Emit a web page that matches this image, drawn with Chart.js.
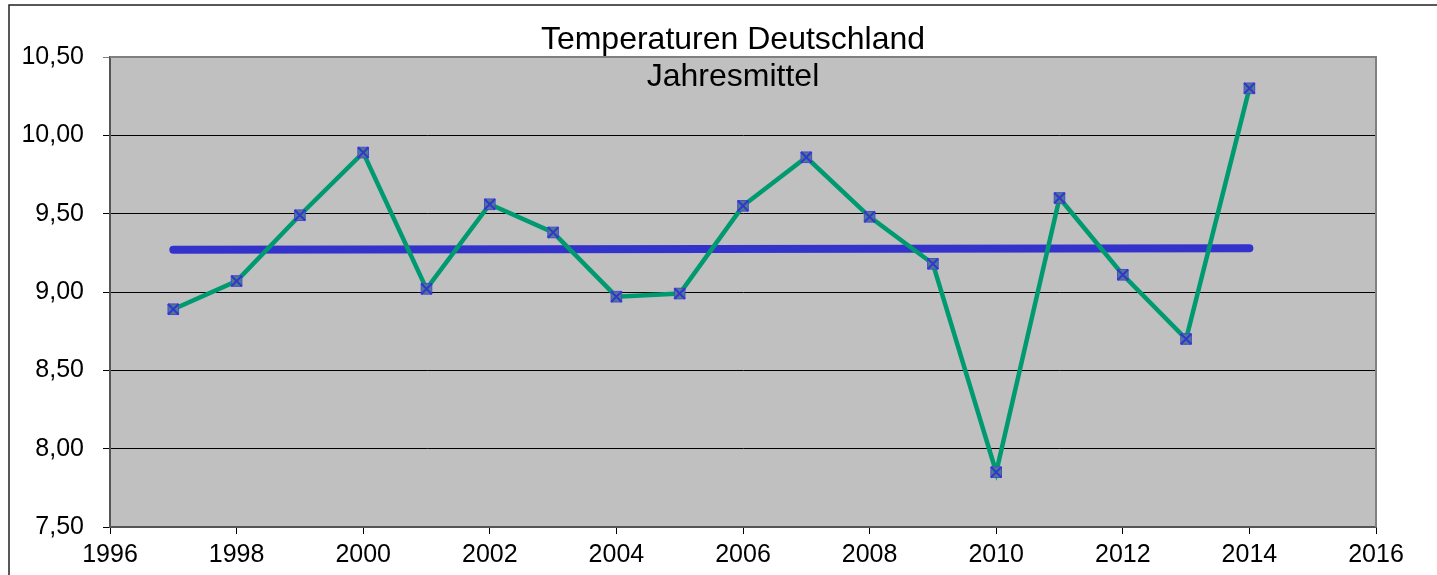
<!DOCTYPE html>
<html>
<head>
<meta charset="utf-8">
<script src="https://cdn.jsdelivr.net/npm/chart.js@4/dist/chart.umd.min.js"></script>
<style>
  html, body { margin: 0; padding: 0; background: #ffffff; }
  #wrap { width: 1437px; height: 575px; }
</style>
</head>
<body>
<div id="wrap"><canvas id="c" width="1437" height="575"></canvas></div>
<script>
const titleLines = ["Temperaturen Deutschland", "Jahresmittel"];
const years = [1997, 1998, 1999, 2000, 2001, 2002, 2003, 2004, 2005, 2006, 2007, 2008, 2009, 2010, 2011, 2012, 2013, 2014];
const temps = [8.89, 9.07, 9.49, 9.89, 9.02, 9.56, 9.38, 8.97, 8.99, 9.55, 9.86, 9.48, 9.18, 7.85, 9.60, 9.11, 8.70, 10.30];
const trendYears = [1997, 2014];
const trendValues = [9.27, 9.28];
const xTicks = [1996, 1998, 2000, 2002, 2004, 2006, 2008, 2010, 2012, 2014, 2016];
const yTicks = [7.5, 8.0, 8.5, 9.0, 9.5, 10.0, 10.5];

const FONT = "'Liberation Sans', Arial, sans-serif";

const pts = (xs, ys) => xs.map((x, i) => ({ x: x, y: ys[i] }));

const bgPlugin = {
  id: 'bgPlugin',
  beforeDraw(chart) {
    const { ctx, chartArea: a } = chart;
    ctx.save();
    ctx.fillStyle = '#c0c0c0';
    ctx.fillRect(a.left, a.top, a.right - a.left, a.bottom - a.top);
    ctx.strokeStyle = '#222222';
    ctx.lineWidth = 1.5;
    ctx.beginPath();
    ctx.moveTo(9, 575);
    ctx.lineTo(9, 5);
    ctx.lineTo(1437, 5);
    ctx.stroke();
    ctx.restore();
  },
  afterDraw(chart) {
    const { ctx, chartArea: a } = chart;
    ctx.save();
    ctx.strokeStyle = '#808080';
    ctx.lineWidth = 2;
    ctx.beginPath();
    ctx.moveTo(a.left, a.top);
    ctx.lineTo(a.right, a.top);
    ctx.lineTo(a.right, a.bottom);
    ctx.stroke();
    ctx.fillStyle = '#000000';
    ctx.font = "32px " + FONT;
    ctx.textAlign = 'center';
    ctx.textBaseline = 'alphabetic';
    ctx.fillText(titleLines[0], 733, 49);
    ctx.fillText(titleLines[1], 733, 86);
    ctx.restore();
  }
};

new Chart(document.getElementById('c'), {
  type: 'scatter',
  data: {
    datasets: [
      {
        label: 'Marker',
        data: pts(years, temps),
        showLine: false,
        pointStyle: 'crossRot',
        pointRadius: 7.5,
        pointBorderColor: '#3434d0',
        pointBorderWidth: 2,
        order: 0
      },
      {
        label: 'Temperatur',
        data: pts(years, temps),
        showLine: true,
        borderColor: '#009a70',
        borderWidth: 4.5,
        tension: 0,
        pointStyle: 'rect',
        pointRadius: 7.5,
        pointBackgroundColor: '#4a7c8a',
        pointBorderColor: '#4a4ad0',
        pointBorderWidth: 1,
        order: 1
      },
      {
        label: 'Trend',
        data: pts(trendYears, trendValues),
        showLine: true,
        borderColor: '#3333cc',
        borderWidth: 8,
        borderCapStyle: 'round',
        pointRadius: 0,
        order: 2
      }
    ]
  },
  options: {
    responsive: false,
    animation: false,
    devicePixelRatio: 1,
    layout: { padding: { left: 0, right: 61, top: 57, bottom: 0 } },
    plugins: { legend: { display: false }, tooltip: { enabled: false }, title: { display: false } },
    scales: {
      x: {
        type: 'linear',
        min: 1996,
        max: 2016,
        afterBuildTicks(scale) { scale.ticks = xTicks.map(v => ({ value: v })); },
        afterFit(scale) { scale.height = 48; },
        grid: { drawOnChartArea: false, color: '#000000', tickLength: 7, tickWidth: 1 },
        border: { color: '#555555', width: 2 },
        ticks: {
          color: '#000000',
          font: { family: FONT, size: 25 },
          padding: 6,
          maxRotation: 0,
          autoSkip: false,
          callback: v => String(v)
        }
      },
      y: {
        type: 'linear',
        min: 7.5,
        max: 10.5,
        afterBuildTicks(scale) { scale.ticks = yTicks.map(v => ({ value: v })); },
        afterFit(scale) { scale.width = 110; },
        grid: {
          color: ctx => (ctx.tick && ctx.tick.value === 10.5) ? '#808080' : '#000000',
          lineWidth: 1,
          tickLength: 7,
          drawTicks: true
        },
        border: { color: '#555555', width: 2 },
        ticks: {
          color: '#000000',
          font: { family: FONT, size: 25 },
          padding: 19,
          autoSkip: false,
          callback: v => v.toFixed(2).replace('.', ',')
        }
      }
    }
  },
  plugins: [bgPlugin]
});
</script>
</body>
</html>
